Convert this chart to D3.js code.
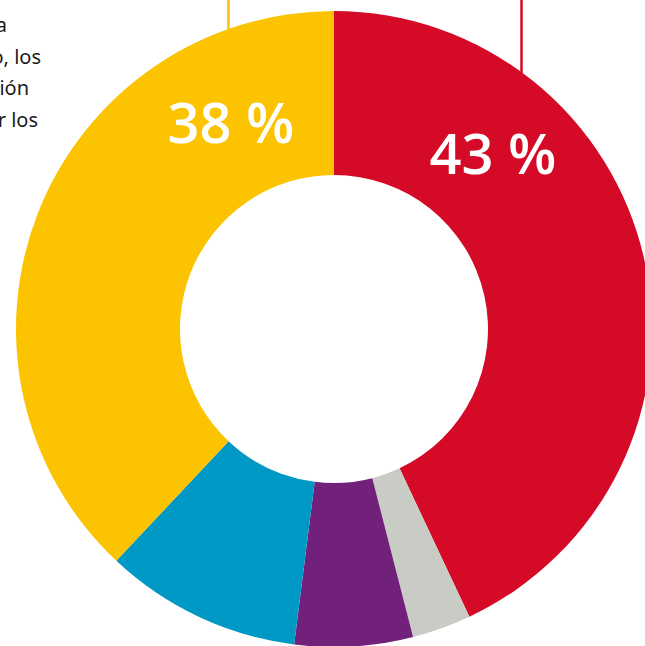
<!DOCTYPE html>
<html>
<head>
<meta charset="utf-8">
<script src="https://cdn.jsdelivr.net/npm/d3@7"></script>
<style>
  body { margin: 0; background: #fff; }
  svg { display: block; }
</style>
</head>
<body>
<div id="chart-area"></div>
<script>
const width = 645;
const height = 646;

// data
const categories = ['rojo', 'gris', 'morado', 'azul', 'amarillo'];
const values = [43, 3, 6, 10, 38];
const colors = ['#d40a27', '#c9ccc4', '#712179', '#0098c4', '#fcc300'];
const pctLabels = ['43 %', '', '', '', '38 %'];
// cut-off text block at the top left
const noteLines = ['a', 'o, los', 'ión', 'r los'];

const cx = 334, cy = 329;
const outerR = 318, innerR = 154;

const svg = d3.select('#chart-area')
  .append('svg')
  .attr('width', width)
  .attr('height', height);

const g = svg.append('g')
  .attr('transform', `translate(${cx}, ${cy})`);

const color = d3.scaleOrdinal()
  .domain(categories)
  .range(colors);

const pie = d3.pie()
  .sort(null)
  .value(d => d.value);

const arc = d3.arc()
  .innerRadius(innerR)
  .outerRadius(outerR);

const data = categories.map((c, i) => ({cat: c, value: values[i], label: pctLabels[i]}));
const arcs = pie(data);

g.selectAll('path.slice')
  .data(arcs)
  .enter()
  .append('path')
  .attr('class', 'slice')
  .attr('d', arc)
  .attr('fill', d => color(d.data.cat));

// leader lines going up out of the frame
const leaders = [{x: 228.5, cat: 'amarillo'}, {x: 521.5, cat: 'rojo'}];
svg.selectAll('line.leader')
  .data(leaders)
  .enter()
  .append('line')
  .attr('class', 'leader')
  .attr('x1', d => d.x)
  .attr('x2', d => d.x)
  .attr('y1', 0)
  .attr('y2', d => cy - Math.sqrt(outerR * outerR - (d.x - cx) * (d.x - cx)) + 1)
  .attr('stroke', d => color(d.cat))
  .attr('stroke-width', 2.5);

// percentage labels
const labelPos = {rojo: [159, -155], amarillo: [-103, -186]};
g.selectAll('text.pct')
  .data(arcs.filter(d => d.data.label))
  .enter()
  .append('text')
  .attr('class', 'pct')
  .attr('x', d => labelPos[d.data.cat][0])
  .attr('y', d => labelPos[d.data.cat][1])
  .attr('text-anchor', 'middle')
  .attr('font-family', '"Open Sans", "Noto Sans", sans-serif')
  .attr('font-weight', 600)
  .attr('font-size', '56px')
  .attr('fill', '#fff')
  .text(d => d.data.label);

// note text (mostly outside the frame)
const noteRight = [7, 41, 29, 38];
svg.selectAll('text.note')
  .data(noteLines)
  .enter()
  .append('text')
  .attr('class', 'note')
  .attr('x', (d, i) => noteRight[i])
  .attr('y', (d, i) => 32 + i * 31.5)
  .attr('text-anchor', 'end')
  .attr('font-family', '"Noto Sans", sans-serif')
  .attr('font-size', '20px')
  .attr('fill', '#1a1a1a')
  .text(d => d);
</script>
</body>
</html>
